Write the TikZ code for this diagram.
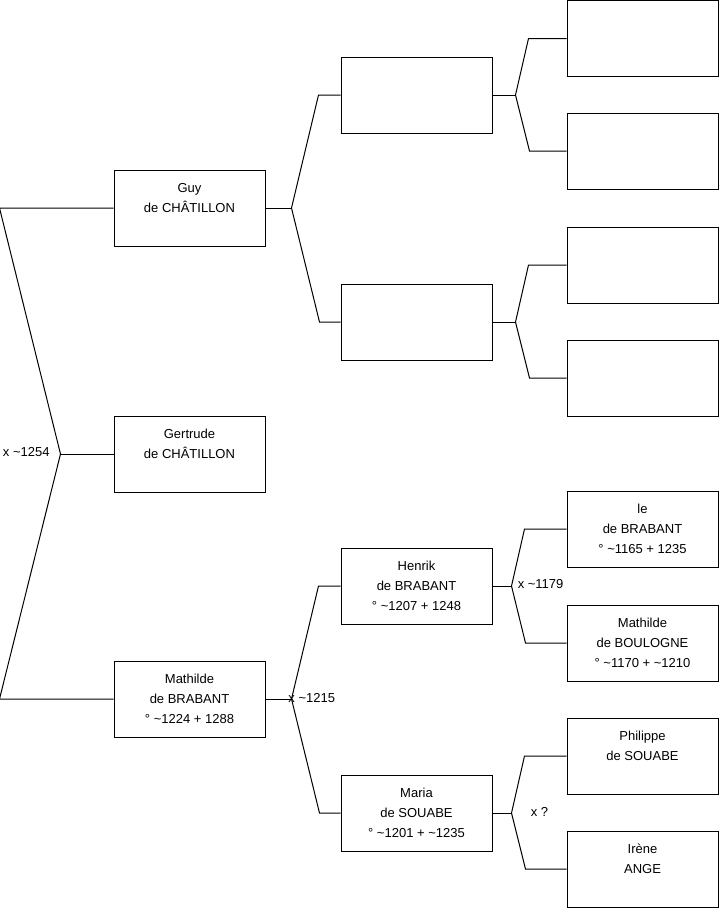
\documentclass[tikz,border=0pt]{standalone}
\usepackage{fontspec}
\setmainfont{Liberation Sans}
\usetikzlibrary{positioning}

% one person: three lines, each with a strut
\newcommand{\who}[3]{\strut#1\\\strut#2\\\strut#3}

\begin{document}
\begin{tikzpicture}[x=0.75pt, y=-0.75pt,
    person/.style={rectangle, draw, line width=0.75pt, minimum width=113.25pt, minimum height=57pt,
        inner sep=0pt, align=center, font=\fontsize{9.75}{15}\selectfont},
    link/.style={line width=0.75pt},
    wedlabel/.style={inner sep=0pt, font=\fontsize{9.75}{15}\selectfont}
]
\useasboundingbox (0,0) rectangle (719,908);

% Generation 1
\node[person] (guy) at (189.5,208) {\who{Guy}{de CHÂTILLON}{}};
\node[person] (gertrude) at (189.5,454) {\who{Gertrude}{de CHÂTILLON}{}};
\node[person] (mathilde) at (189.5,699) {\who{Mathilde}{de BRABANT}{° \textasciitilde1224 + 1288}};

% Generation 2
\node[person] (guyfather) at (416.5,95) {};
\node[person] (guymother) at (416.5,322) {};
\node[person] (henrik) at (416.5,586) {\who{Henrik}{de BRABANT}{° \textasciitilde1207 + 1248}};
\node[person] (maria) at (416.5,813) {\who{Maria}{de SOUABE}{° \textasciitilde1201 + \textasciitilde1235}};

% Generation 3
\node[person] (gff) at (642.5,38.5) {};
\node[person] (gfm) at (642.5,151) {};
\node[person] (gmf) at (642.5,265) {};
\node[person] (gmm) at (642.5,378) {};
\node[person] (henrikfather) at (642.5,529) {\who{le}{de BRABANT}{° \textasciitilde1165 + 1235}};
\node[person] (henrikmother) at (642.5,643) {\who{Mathilde}{de BOULOGNE}{° \textasciitilde1170 + \textasciitilde1210}};
\node[person] (philippe) at (642.5,756) {\who{Philippe}{de SOUABE}{}};
\node[person] (irene) at (642.5,869) {\who{Irène}{ANGE}{}};

% Forks
\draw[link] (gertrude.west) -- ++(-53,0) coordinate (wed0);
\draw[link] (guy.west) -- ++(-114,0) -- (wed0) -- ++(-61,245) -- (mathilde.west);

\draw[link] (guy.east) -- ++(26,0) coordinate (wedguy);
\draw[link] (guyfather.west) -- ++(-22,0) -- (wedguy) -- ++(28,114) -- (guymother.west);
\draw[link] (mathilde.east) -- ++(26,0) coordinate (wedmat);
\draw[link] (henrik.west) -- ++(-22,0) -- (wedmat) -- ++(28,114) -- (maria.west);

\draw[link] (guyfather.east) -- ++(23,0) coordinate (wedgf);
\draw[link] (gff.west) -- ++(-38,0) -- (wedgf) -- ++(14,56) -- (gfm.west);
\draw[link] (guymother.east) -- ++(23,0) coordinate (wedgm);
\draw[link] (gmf.west) -- ++(-38,0) -- (wedgm) -- ++(14,56) -- (gmm.west);
\draw[link] (henrik.east) -- ++(19,0) coordinate (wedhen);
\draw[link] (henrikfather.west) -- ++(-42,0) -- (wedhen) -- ++(14,57) -- (henrikmother.west);
\draw[link] (maria.east) -- ++(19,0) coordinate (wedmar);
\draw[link] (philippe.west) -- ++(-42,0) -- (wedmar) -- ++(14,56) -- (irene.west);

% Marriages
\node[wedlabel, left=8pt of wed0, yshift=1.5pt] (m0) {x \textasciitilde1254};
\node[wedlabel, anchor=west] (m1) at ([xshift=-2.5pt, yshift=0.75pt]wedmat) {x \textasciitilde1215};
\node[wedlabel, right=4.5pt of wedhen, yshift=1.5pt] (m2) {x \textasciitilde1179};
\node[wedlabel, right=14.25pt of wedmar, yshift=0.75pt] (m3) {x ?};

\end{tikzpicture}
\end{document}
